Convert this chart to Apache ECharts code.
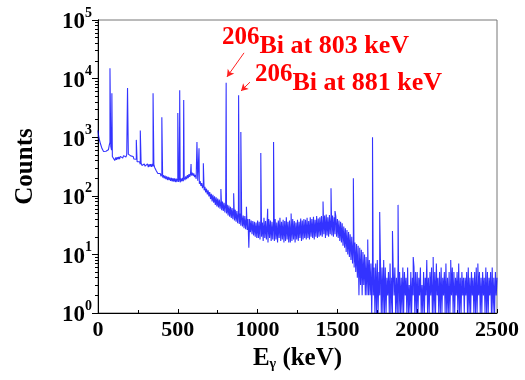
<!DOCTYPE html>
<html>
<head>
<meta charset="utf-8">
<script src="https://cdn.jsdelivr.net/npm/echarts@6/dist/echarts.min.js"></script>
<style>
  html, body { margin: 0; padding: 0; background: #fff; }
  #chart { width: 525px; height: 380px; }
</style>
</head>
<body>
<div id="chart"></div>
<script>
// spectrum background, counts per 5 keV step starting at 0 keV
var binWidth = 5;
var baseCounts = [
  1300,1000,930,780,740,640,640,570,590,545,575,550,600,610,720,820,700,600,470,440,
  440,400,450,410,455,420,460,425,470,435,475,440,485,450,490,460,505,470,515,485,
  525,480,495,455,470,425,445,400,420,380,400,360,380,345,365,330,355,325,350,320,
  345,315,350,310,345,315,348,312,350,315,345,305,310,268,275,240,255,228,240,215,
  235,205,225,198,220,192,215,186,210,185,205,180,202,176,200,175,198,172,196,172,
  198,172,200,170,198,176,202,178,206,185,215,192,225,200,235,210,245,222,248,220,
  242,208,228,195,210,180,190,160,178,148,165,135,152,124,142,114,132,106,124,98,
  116,88,108,80,104,76,98,70,94,66,90,63,86,60,82,57,80,55,76,52,
  74,50,70,46,68,44,65,42,62,40,60,38,58,36,55,34,52,33,50,31,
  48,30,46,28,45,27,42,26,40,13,40,24,38,22,37,21,36,20,35,19,
  38,19,36,18,40,20,35,17,42,19,37,18,36,16,40,19,38,17,36,18,
  37,17,40,18,35,16,38,19,42,17,36,18,39,16,37,17,43,18,36,16,
  38,16,36,17,40,18,37,16,35,18,39,17,36,19,41,17,38,18,40,19,
  39,18,42,19,37,18,43,20,40,19,44,18,39,20,45,19,41,20,43,21,
  45,20,42,22,46,19,48,21,43,20,47,22,44,21,46,20,43,22,45,20,
  40,19,38,17,36,16,34,14,30,13,28,11,26,10,24,9,22,8,20,7,
  18,6,16,5,15,4,14,2,13,3,12,2,11,3,10,2,9,2,9,2,
  8,2,7,1,8,2,6,1,7,1,8,1,5,2,7,1,6,1,8,1,
  6,1,4,2,5,1,7,1,4,1,5,2,6,1,4,1,7,1,5,1,
  4,1,6,1,5,2,4,1,6,1,3,1,5,1,4,2,6,1,5,1,
  5,1,4,2,6,1,3,1,5,1,4,2,8,1,4,1,5,2,6,1,
  4,1,5,1,7,2,4,1,5,1,6,1,4,2,5,1,7,1,4,1,
  5,1,4,2,6,1,5,1,4,2,5,1,7,1,4,1,5,2,4,1,
  4,2,5,1,6,1,4,1,5,2,4,1,5,1,6,1,4,2,5,1,
  4,1,5,2,4,1,6,1,5,1,4,2,5,1,6,1,4,1,5,2,
  4
];

// gamma lines: energy (keV) and peak counts
var peakEnergy = [75,87,185,240,265,345,400,500,512,537,583,620,633,660,770,803,850,881,895,930,1020,1063,1100,1210,1330,1410,1460,1485,1600,1690,1720,1765,1845,1880,1975,2100,2210,2380];
var peakCounts = [15000,5600,6900,900,1300,5600,2200,2600,6300,4300,350,830,650,360,130,8500,110,5200,1230,65,540,60,830,50,45,80,135,55,200,18,1000,53,25,70,9,9,8,7];

// arrows for the labels: [fromE, fromCounts, toE, toCounts]
var arrow803 = [915, 27500, 808, 10700];
var arrow881 = [952, 8700, 896, 6150];

// minor ticks of the log axis, in decades (drawn on a hidden linear axis 0..5)
var yMinorTicks = [];
for (var d = 0; d < 5; d++) {
  for (var k = 2; k <= 9; k++) yMinorTicks.push(d + Math.log10(k));
}

var spectrum = [];
for (var i = 0; i < baseCounts.length; i++) {
  spectrum.push([i * binWidth, baseCounts[i]]);
}
for (var j = 0; j < peakEnergy.length; j++) {
  spectrum.push([peakEnergy[j], peakCounts[j]]);
}
spectrum.sort(function (a, b) { return a[0] - b[0]; });

var serif = 'Liberation Serif';
var labelRich = function () {
  return {
    n: { fontFamily: serif, fontWeight: 'bold', fontSize: 25, fill: '#ff0000', verticalAlign: 'top', lineHeight: 34 },
    t: { fontFamily: serif, fontWeight: 'bold', fontSize: 26, fill: '#ff0000', verticalAlign: 'bottom', lineHeight: 34 }
  };
};

var myChart = echarts.init(document.getElementById('chart'));
var option = {
  animation: false,
  grid: {
    left: 98, right: 28, top: 20, bottom: 67,
    show: true, borderColor: '#777', borderWidth: 1
  },
  xAxis: {
    type: 'value',
    min: 0, max: 2500, interval: 500,
    name: 'E{sub|γ} (keV)',
    nameLocation: 'middle',
    nameGap: 33,
    nameTextStyle: {
      fontFamily: serif, fontWeight: 'bold', fontSize: 25, color: '#000',
      rich: { sub: { fontFamily: serif, fontWeight: 'bold', fontSize: 14, verticalAlign: 'bottom', padding: [10, 0, 0, 0] } }
    },
    axisLine: { lineStyle: { color: '#000', width: 1 } },
    axisTick: { inside: true, length: 4, lineStyle: { color: '#000' } },
    minorTick: { show: true, splitNumber: 2, length: 3, lineStyle: { color: '#000' } },
    splitLine: { show: false },
    axisLabel: {
      fontFamily: serif, fontWeight: 'bold', fontSize: 22, color: '#000', margin: 6,
      formatter: function (v) { return String(v); }
    }
  },
  yAxis: [{
    type: 'log', logBase: 10, min: 1, max: 100000,
    name: 'Counts',
    nameLocation: 'middle',
    nameGap: 60,
    nameTextStyle: { fontFamily: serif, fontWeight: 'bold', fontSize: 25, color: '#000' },
    axisLine: { show: true, lineStyle: { color: '#000', width: 1 } },
    axisTick: { inside: false, length: 6, lineStyle: { color: '#000' } },
    splitLine: { show: false },
    axisLabel: {
      margin: 6,
      formatter: function (v) {
        return '{b|10}{s|' + Math.round(Math.log10(v)) + '}';
      },
      rich: {
        b: { fontFamily: serif, fontWeight: 'bold', fontSize: 23, color: '#000', verticalAlign: 'bottom', lineHeight: 28 },
        s: { fontFamily: serif, fontWeight: 'bold', fontSize: 14, color: '#000', verticalAlign: 'top', lineHeight: 28 }
      }
    }
  }, {
    type: 'value', min: 0, max: 5,
    position: 'left',
    axisLine: { show: true, lineStyle: { color: '#000', width: 1 } },
    axisLabel: { show: false },
    splitLine: { show: false },
    axisTick: { show: true, customValues: yMinorTicks, length: 3, lineStyle: { color: '#000' } }
  }],
  graphic: [{
    type: 'text', left: 222, top: 25,
    style: { text: '{n|206}{t|Bi at 803 keV}', rich: labelRich() }
  }, {
    type: 'text', left: 255, top: 62,
    style: { text: '{n|206}{t|Bi at 881 keV}', rich: labelRich() }
  }],
  series: [{
    type: 'line',
    data: spectrum,
    showSymbol: false,
    sampling: null,
    silent: true,
    lineStyle: { color: 'rgba(0,0,255,0.8)', width: 1.1 },
    markLine: {
      silent: true,
      symbol: ['none', 'arrow'],
      symbolSize: [6, 7],
      label: { show: false },
      lineStyle: { color: '#ff2020', width: 1, type: 'solid' },
      data: [
        [{ coord: [arrow803[0], arrow803[1]] }, { coord: [arrow803[2], arrow803[3]] }],
        [{ coord: [arrow881[0], arrow881[1]] }, { coord: [arrow881[2], arrow881[3]] }]
      ]
    }
  }]
};
myChart.setOption(option);
</script>
</body>
</html>
